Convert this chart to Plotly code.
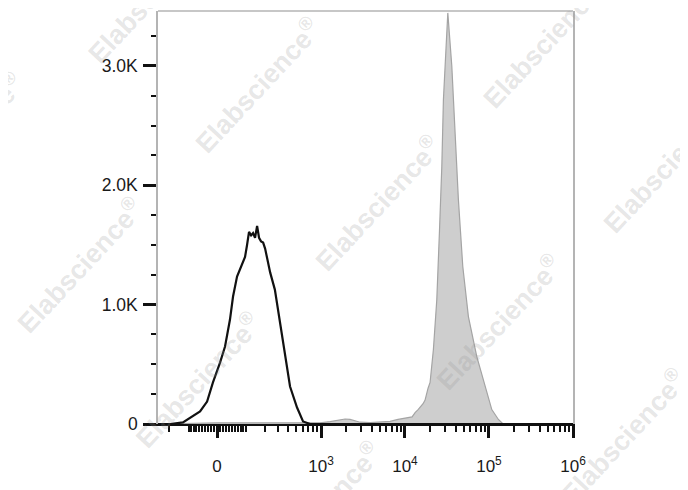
import numpy as np
import plotly.graph_objects as go

# ---------------- data (fluorescence intensity -> event count) ----------------
black_x = [-281, -193, -125, -82, -56, -32, -13, 9.5, 25.6, 42, 52.5, 66.8, 86, 98,
           106.5, 115.2, 124.6, 134, 143.9, 154.5, 165, 176.4, 188.7, 201, 214, 235,
           271, 316, 365, 421, 513, 607, 738, 1e6]
black_y = [0, 0, 13, 63, 105, 188, 348, 515, 649, 875, 1068, 1236, 1336, 1400,
           1500, 1610, 1580, 1600, 1560, 1660, 1560, 1530, 1520, 1470, 1390, 1270,
           1126, 850, 565, 314, 138, 21, 0, 0]

gray_x = [-281, -150, -50, 0, 100, 300, 738, 973, 1282, 1687, 1935, 2219, 2546, 2921,
          3845, 5058, 6653, 8285, 9500, 10890, 12160, 13200, 14330, 16430, 17350,
          18840, 19900, 21800, 23940, 25700, 27460, 28690, 32360, 36110, 39510,
          43240, 48780, 56900, 71600, 89900, 108000, 129500, 147200, 1e6]
gray_y = [0, 5, 10, 10, 10, 8, 5, 10, 20, 35, 42, 38, 28, 15,
          12, 15, 22, 38, 46, 54, 60, 96, 120, 170, 200,
          300, 348, 624, 1043, 1601, 2159, 2718, 3444, 2997, 2441,
          1880, 1319, 900, 565, 314, 121, 38, 0, 0]

x_major_vals = [0, 1e3, 1e4, 1e5, 1e6]
x_major_text = ["0", "10<sup>3</sup>", "10<sup>4</sup>", "10<sup>5</sup>", "10<sup>6</sup>"]
x_minor_vals = ([-200, -100, -90, -80, -70, -60, -50, -40, -30, -20, -10,
                 10, 20, 30, 40, 50, 60, 70, 80, 90]
                + [m * 10 ** e for e in (2, 3, 4, 5) for m in range(2 if e > 2 else 1, 10)])
y_major_vals = [0, 1000, 2000, 3000]
y_major_text = ["0", "1.0K", "2.0K", "3.0K"]
y_minor_vals = [250, 500, 750, 1250, 1500, 1750, 2250, 2500, 2750, 3250]

X_MIN, X_MAX = -281, 1e6
Y_MAX = 3460
C = 116.0  # width of the linear region of the biexponential-like display


def disp(v):
    return np.arcsinh(np.asarray(v, dtype=float) / C) / np.log(10)


fig = go.Figure()
fig.add_trace(go.Scatter(x=disp(gray_x), y=gray_y, mode="lines", fill="tozeroy",
                         fillcolor="#cecece", line=dict(color="#a4a4a4", width=1.2),
                         hoverinfo="skip", showlegend=False))
fig.add_trace(go.Scatter(x=disp(black_x), y=black_y, mode="lines",
                         line=dict(color="#111111", width=2.2),
                         hoverinfo="skip", showlegend=False))

font_x = dict(family="Liberation Sans, Arial, sans-serif", size=17, color="#1a1a1a")
font_y = dict(family="Liberation Sans, Arial, sans-serif", size=17.5, color="#1a1a1a")

fig.update_xaxes(range=[float(disp(X_MIN)), float(disp(X_MAX))], automargin=False,
                 tickmode="array", tickvals=list(disp(x_major_vals)), ticktext=x_major_text,
                 ticks="outside", ticklen=12, tickwidth=2.5, tickcolor="#111111",
                 showline=True, linecolor="#111111", linewidth=2, mirror=False,
                 showgrid=False, zeroline=False, tickfont=font_x, ticklabelstandoff=14,
                 minor=dict(tickmode="array", tickvals=list(disp(x_minor_vals)),
                            ticks="outside", ticklen=6, tickwidth=1.5, tickcolor="#111111"))
fig.update_yaxes(range=[0, Y_MAX], automargin=False, tickmode="array",
                 tickvals=y_major_vals,
                 ticktext=y_major_text, ticks="outside", ticklen=13, tickwidth=2.5,
                 tickcolor="#111111", showline=True, linecolor="#b4b4b4", linewidth=1.5,
                 mirror=True, showgrid=False, zeroline=False, tickfont=font_y,
                 ticklabelstandoff=2,
                 minor=dict(tickmode="array", tickvals=y_minor_vals, ticks="outside",
                            ticklen=5, tickwidth=1.5, tickcolor="#111111"))

# top frame line
fig.add_shape(type="line", xref="paper", yref="paper", x0=0, x1=1, y0=1, y1=1,
              line=dict(color="#b4b4b4", width=1.5))

# watermarks (pixel centres in the page)
wm_px = [(150, -5), (257, 85), (-40, 140), (545, 40), (377, 203), (665, 165),
         (79, 265), (498, 322), (197, 380), (318, 510), (623, 437)]
for px, py in wm_px:
    fig.add_annotation(xref="paper", yref="paper",
                       x=(px - 158) / 415.0, y=(424.5 - py) / 413.5,
                       text="Elabscience<sup>®</sup>", showarrow=False, textangle=-47,
                       font=dict(family="Liberation Sans, Arial, sans-serif", size=27,
                                 weight="bold", color="rgba(150,150,150,0.24)"),
                       xanchor="center", yanchor="middle")

# the page body has an 8 px margin: size the figure so the plot lands where it should
fig.update_layout(width=680, height=482, margin=dict(l=150, r=115, t=3, b=65.5),
                  paper_bgcolor="white", plot_bgcolor="white", showlegend=False)

fig.write_html("out.html")
